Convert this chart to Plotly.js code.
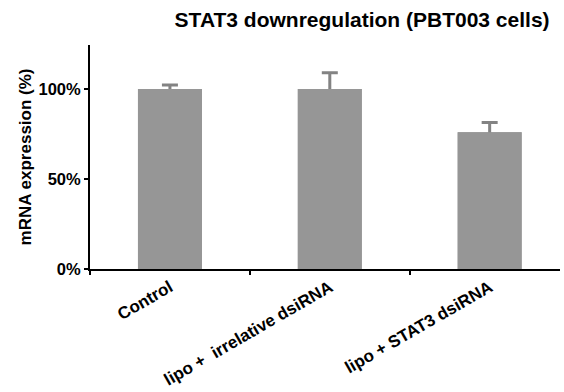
<!DOCTYPE html>
<html><head><meta charset="utf-8">
<script src="https://cdn.plot.ly/plotly-3.0.1.min.js"></script>
<style>html,body{margin:0;padding:0;background:#fff;}</style>
</head><body>
<div id="chart" style="width:564px;height:392px;"></div>
<script>
var categories = ["Control", "lipo + \u00a0irrelative dsiRNA", "lipo + STAT3 dsiRNA"];
var values = [100, 100, 76];
var errors = [2.2, 9, 5.4];
var yTickVals = [0, 50, 100];
var yTickText = ["0%", "50%", "100%"];

var errTrace = {
  type: 'bar', x: categories, y: values, width: 0.4,
  marker: {color: '#969696'},
  error_y: {type: 'data', symmetric: true, array: errors,
            color: '#838383', thickness: 3, width: 8},
  hoverinfo: 'none'
};
var barTrace = {
  type: 'bar', x: categories, y: values, width: 0.4,
  marker: {color: '#969696'},
  hoverinfo: 'none'
};

var layout = {
  width: 564, height: 392,
  margin: {l: 90, r: 4, t: 45, b: 123},
  barmode: 'overlay',
  paper_bgcolor: '#fff', plot_bgcolor: '#fff',
  showlegend: false,
  font: {family: 'Liberation Sans, Arial, sans-serif', color: '#000'},
  title: {text: 'STAT3 downregulation (PBT003 cells)', x: 0.642, xanchor: 'center', y: 0.95, yanchor: 'middle',
          font: {size: 21, weight: 'bold', color: '#000'}},
  xaxis: {type: 'category', range: [-0.5, 2.44], tickson: 'boundaries', ticks: 'outside', ticklen: 4, tickwidth: 2,
          tickcolor: '#000', showline: true, linecolor: '#000', linewidth: 2, showgrid: false,
          tickangle: -30, tickfont: {size: 17, weight: 'bold'}, fixedrange: true},
  yaxis: {range: [0, 124.4], tickvals: yTickVals, ticktext: yTickText, ticks: 'outside', ticklen: 4, tickwidth: 2,
          tickcolor: '#000', showline: true, linecolor: '#000', linewidth: 2, showgrid: false, zeroline: false,
          tickfont: {size: 16.5, weight: 'bold'},
          title: {text: 'mRNA expression (%)', font: {size: 17, weight: 'bold'}, standoff: 3}, fixedrange: true}
};

Plotly.newPlot('chart', [errTrace, barTrace], layout, {displayModeBar: false, staticPlot: true});
</script>
</body></html>
